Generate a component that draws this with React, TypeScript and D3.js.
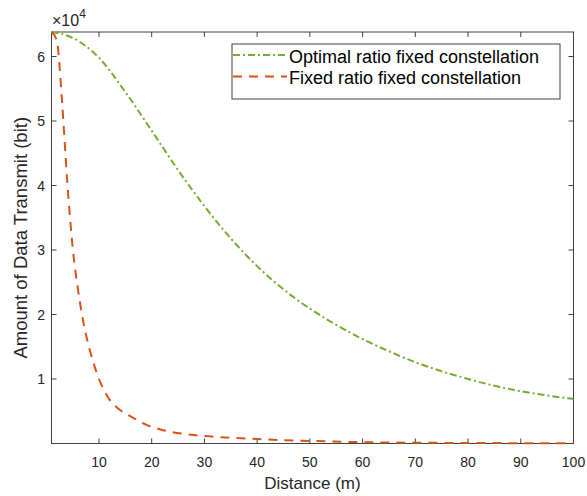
import React, { useEffect, useRef } from "react";
import * as d3 from "d3";

// distances (m) and data amounts (bit)
const optimalDist = [1, 5, 10, 15, 20, 25, 30, 35, 40, 45, 50, 55, 60, 65, 70, 75, 80, 85, 90, 95, 100];
const optimalBits = [63800, 62900, 59800, 54500, 48500, 42400, 36800, 31800, 27500, 23900, 20900, 18400, 16200, 14300, 12600, 11200, 10000, 8950, 8100, 7450, 6900];

const fixedDist = [1, 2, 3, 4, 5, 6, 7, 8, 9, 10, 11, 12, 13, 14, 15, 16, 17, 18, 19, 20, 22, 24, 26, 28, 30, 35, 40, 45, 50, 60, 70, 80, 90, 100];
const fixedBits = [63800, 62500, 53000, 40500, 30500, 24000, 19000, 15300, 12400, 10000, 8200, 6800, 5900, 5200, 4650, 4200, 3750, 3300, 2900, 2600, 2100, 1750, 1500, 1300, 1150, 900, 700, 500, 400, 200, 120, 80, 50, 30];

const xTicks = [10, 20, 30, 40, 50, 60, 70, 80, 90, 100];
const yTicks = [10000, 20000, 30000, 40000, 50000, 60000];

const seriesNames = ["Optimal ratio fixed constellation", "Fixed ratio fixed constellation"];
const seriesColors = ["#77AC30", "#D95319"];
const seriesDash = ["7,3,2,3", "9,7"];

const FONT = "'Liberation Sans', Arial, sans-serif";
const AXIS = "#404040";

export default function App() {
  const ref = useRef<SVGSVGElement>(null);

  useEffect(() => {
    const svg = d3.select(ref.current);
    const left = 51.5, right = 573.5, top = 32, bottom = 443.5;

    const x = d3.scaleLinear().domain([1, 100]).range([left, right]);
    const y = d3.scaleLinear().domain([0, 63800]).range([bottom, top]);

    const g = svg.selectAll(".plot").data([0]).join("g").attr("class", "plot");

    // box
    g.selectAll(".box").data([0]).join("rect").attr("class", "box")
      .attr("x", left).attr("y", top).attr("width", right - left).attr("height", bottom - top)
      .attr("fill", "white").attr("stroke", AXIS).attr("stroke-width", 1);

    // ticks (inside, mirrored)
    g.selectAll(".xt").data(xTicks).join("path").attr("class", "xt")
      .attr("d", d => `M${x(d)},${bottom}v-5M${x(d)},${top}v5`)
      .attr("stroke", AXIS);
    g.selectAll(".yt").data(yTicks).join("path").attr("class", "yt")
      .attr("d", d => `M${left},${y(d)}h5M${right},${y(d)}h-5`)
      .attr("stroke", AXIS);

    g.selectAll(".xl").data(xTicks).join("text").attr("class", "xl")
      .attr("x", d => x(d)).attr("y", 467).attr("text-anchor", "middle")
      .attr("font-size", 14).attr("font-family", FONT).attr("fill", "#262626")
      .text(d => d);
    g.selectAll(".yl").data(yTicks).join("text").attr("class", "yl")
      .attr("x", 45).attr("y", d => y(d) + 5).attr("text-anchor", "end")
      .attr("font-size", 14).attr("font-family", FONT).attr("fill", "#262626")
      .text(d => d / 10000);

    // exponent
    const ex = g.selectAll(".exp").data([0]).join("text").attr("class", "exp")
      .attr("x", 52).attr("y", 26).attr("font-family", FONT).attr("fill", "#262626");
    ex.selectAll("tspan").data(["×10", "4"]).join("tspan")
      .attr("dy", (d, i) => (i === 1 ? -8 : 0))
      .attr("font-size", (d, i) => (i === 1 ? 12 : 16))
      .text(d => d);

    // axis labels
    g.selectAll(".xlab").data([0]).join("text").attr("class", "xlab")
      .attr("x", (left + right) / 2).attr("y", 489).attr("text-anchor", "middle")
      .attr("font-size", 17).attr("font-family", FONT).attr("fill", "#262626")
      .text("Distance (m)");
    g.selectAll(".ylab").data([0]).join("text").attr("class", "ylab")
      .attr("transform", `translate(27,${(top + bottom) / 2}) rotate(-90)`)
      .attr("text-anchor", "middle")
      .attr("font-size", 18.5).attr("font-family", FONT).attr("fill", "#262626")
      .text("Amount of Data Transmit (bit)");

    // lines
    const series = [
      optimalDist.map((d, i) => [d, optimalBits[i]]),
      fixedDist.map((d, i) => [d, fixedBits[i]]),
    ];
    const line = d3.line<number[]>().x(d => x(d[0])).y(d => y(d[1])).curve(d3.curveMonotoneX);
    g.selectAll(".series").data(series).join("path").attr("class", "series")
      .attr("d", d => line(d))
      .attr("fill", "none")
      .attr("stroke", (d, i) => seriesColors[i])
      .attr("stroke-width", 2)
      .attr("stroke-dasharray", (d, i) => seriesDash[i]);

    // legend
    const lg = g.selectAll(".legend").data([0]).join("g").attr("class", "legend");
    lg.selectAll("rect").data([0]).join("rect")
      .attr("x", 232).attr("y", 44).attr("width", 328).attr("height", 55)
      .attr("fill", "white").attr("stroke", AXIS);
    lg.selectAll(".ll").data(seriesNames).join("line").attr("class", "ll")
      .attr("x1", 233).attr("x2", 287)
      .attr("y1", (d, i) => 55 + i * 21.5).attr("y2", (d, i) => 55 + i * 21.5)
      .attr("stroke", (d, i) => seriesColors[i]).attr("stroke-width", 2)
      .attr("stroke-dasharray", (d, i) => seriesDash[i]);
    lg.selectAll(".lt").data(seriesNames).join("text").attr("class", "lt")
      .attr("x", 289).attr("y", (d, i) => 62.5 + i * 21.5)
      .attr("font-size", 18).attr("font-family", FONT).attr("fill", "#000")
      .text(d => d);
  }, []);

  return (
    <svg ref={ref} width={587} height={496}
      style={{ position: "absolute", left: 0, top: 0, background: "white" }} />
  );
}
